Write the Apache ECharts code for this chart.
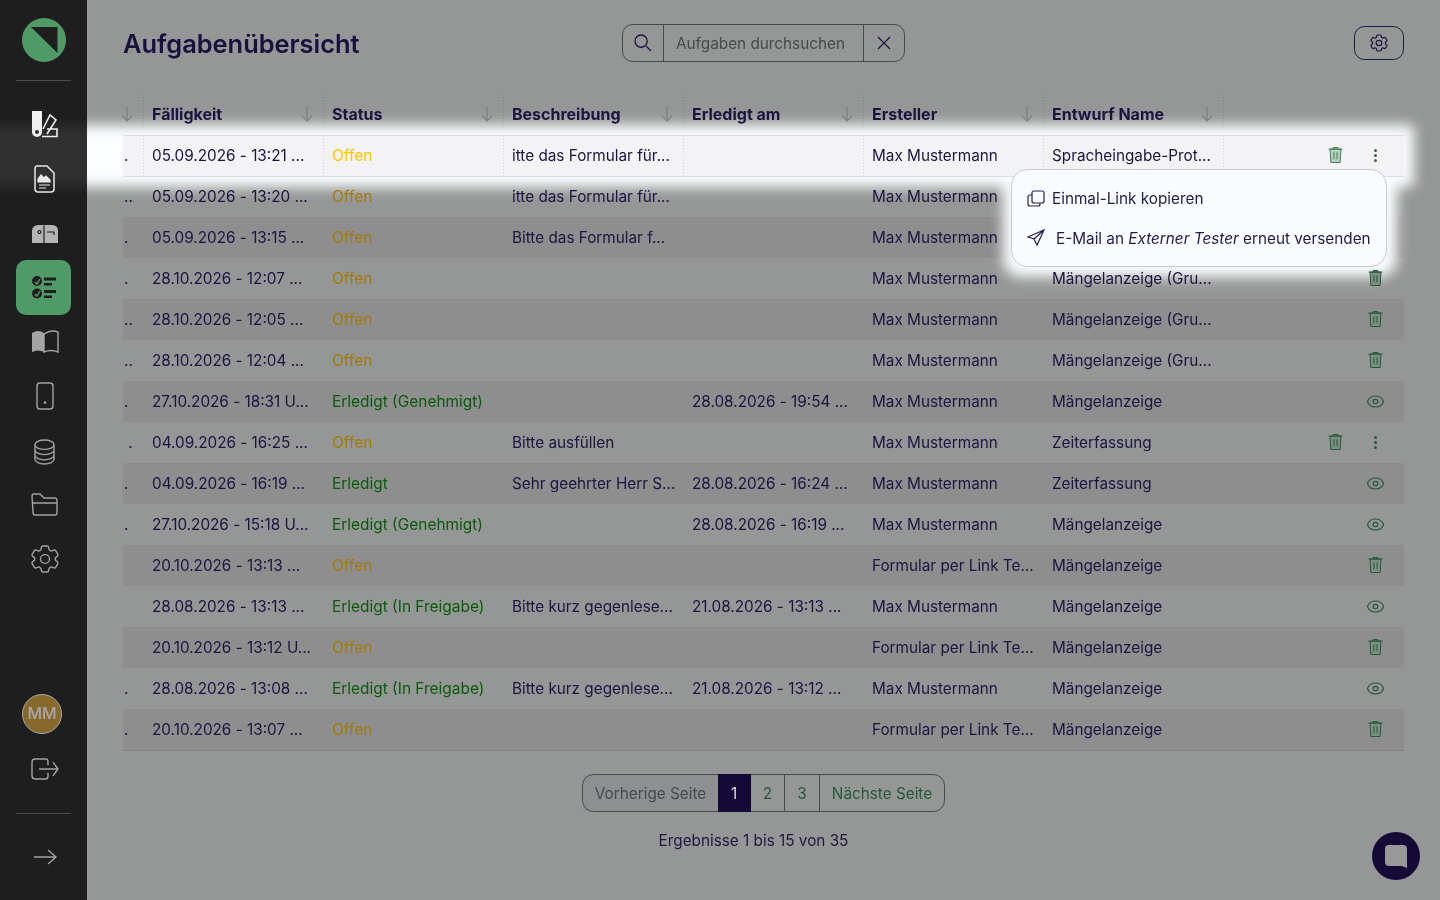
<!DOCTYPE html>
<html><head><meta charset="utf-8">
<style>html,body{margin:0;padding:0;background:#959796}#c{width:1440px;height:900px}</style>
<script src="https://cdn.jsdelivr.net/npm/echarts@6/dist/echarts.min.js"></script></head>
<body><div id="c"></div>
<script>
const headers = ['Fälligkeit', 'Status', 'Beschreibung', 'Erledigt am', 'Ersteller', 'Entwurf Name', ''];
const tails = ['.', '..', '.', '.', '..', '..', '.', ' .', '.', '.', '', '', '', '.', '.'];
const faelligkeit = ['05.09.2026 - 13:21 ...','05.09.2026 - 13:20 ...','05.09.2026 - 13:15 ...','28.10.2026 - 12:07 ...','28.10.2026 - 12:05 ...','28.10.2026 - 12:04 ...','27.10.2026 - 18:31 U...','04.09.2026 - 16:25 ...','04.09.2026 - 16:19 ...','27.10.2026 - 15:18 U...','20.10.2026 - 13:13 ...','28.08.2026 - 13:13 ...','20.10.2026 - 13:12 U...','28.08.2026 - 13:08 ...','20.10.2026 - 13:07 ...'];
const status = ['Offen','Offen','Offen','Offen','Offen','Offen','Erledigt (Genehmigt)','Offen','Erledigt','Erledigt (Genehmigt)','Offen','Erledigt (In Freigabe)','Offen','Erledigt (In Freigabe)','Offen'];
const beschreibung = ['itte das Formular für...','itte das Formular für...','Bitte das Formular f...','','','','','Bitte ausfüllen','Sehr geehrter Herr S...','','','Bitte kurz gegenlese...','','Bitte kurz gegenlese...',''];
const erledigtAm = ['','','','','','','28.08.2026 - 19:54 ...','','28.08.2026 - 16:24 ...','28.08.2026 - 16:19 ...','','21.08.2026 - 13:13 ...','','21.08.2026 - 13:12 ...',''];
const ersteller = ['Max Mustermann','Max Mustermann','Max Mustermann','Max Mustermann','Max Mustermann','Max Mustermann','Max Mustermann','Max Mustermann','Max Mustermann','Max Mustermann','Formular per Link Te...','Max Mustermann','Formular per Link Te...','Max Mustermann','Formular per Link Te...'];
const entwurf = ['Spracheingabe-Prot...','','','Mängelanzeige (Gru...','Mängelanzeige (Gru...','Mängelanzeige (Gru...','Mängelanzeige','Zeiterfassung','Zeiterfassung','Mängelanzeige','Mängelanzeige','Mängelanzeige','Mängelanzeige','Mängelanzeige','Mängelanzeige'];
const actions = ['menu','','','trash','trash','trash','eye','menu','eye','eye','trash','eye','trash','eye','trash'];

const INK='#1c1340', GREEN='#27583a', ICON='#a3a3a3';
const F='Inter, "Noto Sans", sans-serif';
const BODY='400 15.3px', STATUS='400 15.45px';
const colText=[faelligkeit,status,beschreibung,erledigtAm,ersteller,entwurf];
const rowNames=['head'].concat(faelligkeit.map((_,i)=>'r'+i));
const colNames=headers.map((_,i)=>'c'+i);

const PATHS={
 gear:'M9.594 3.94c.09-.542.56-.94 1.11-.94h2.593c.55 0 1.02.398 1.11.94l.213 1.281c.063.374.313.686.645.87.074.04.147.083.22.127.325.196.72.257 1.075.124l1.217-.456a1.125 1.125 0 0 1 1.37.49l1.296 2.247a1.125 1.125 0 0 1-.26 1.431l-1.003.827c-.293.241-.438.613-.43.992a7.723 7.723 0 0 1 0 .255c-.008.378.137.75.43.991l1.004.827c.424.35.534.955.26 1.43l-1.298 2.247a1.125 1.125 0 0 1-1.369.491l-1.217-.456c-.355-.133-.75-.072-1.076.124a6.47 6.47 0 0 1-.22.128c-.331.183-.581.495-.644.869l-.213 1.281c-.09.543-.56.94-1.11.94h-2.594c-.55 0-1.019-.398-1.11-.94l-.213-1.281c-.062-.374-.312-.686-.644-.87a6.52 6.52 0 0 1-.22-.127c-.325-.196-.72-.257-1.076-.124l-1.217.456a1.125 1.125 0 0 1-1.369-.49l-1.297-2.247a1.125 1.125 0 0 1 .26-1.431l1.004-.827c.292-.24.437-.613.43-.991a6.932 6.932 0 0 1 0-.255c.007-.38-.138-.751-.43-.992l-1.004-.827a1.125 1.125 0 0 1-.26-1.43l1.297-2.247a1.125 1.125 0 0 1 1.37-.491l1.216.456c.356.133.751.072 1.076-.124.072-.044.146-.086.22-.128.332-.183.582-.495.644-.869l.214-1.28Z M15 12a3 3 0 1 1-6 0 3 3 0 0 1 6 0Z',
 eye:'M2.036 12.322a1.012 1.012 0 0 1 0-.639C3.423 7.51 7.36 4.5 12 4.5c4.638 0 8.573 3.007 9.963 7.178.07.207.07.431 0 .639C20.577 16.49 16.64 19.5 12 19.5c-4.638 0-8.573-3.007-9.963-7.178Z M15 12a3 3 0 1 1-6 0 3 3 0 0 1 6 0Z',
 trashBody:'M3 5H21 M9 5V3H15V5 M5 5L6 22H18L19 5Z M10 9V18 M14 9V18',
 search:'M16 16L21 21 M17 10.5A6.5 6.5 0 1 1 4 10.5A6.5 6.5 0 1 1 17 10.5Z',
 x:'M5 5L19 19 M19 5L5 19',
 swatch:'M32 111H42V132A5 5 0 0 1 32 132Z M35 132A2 2 0 1 0 39 132A2 2 0 1 0 35 132Z',
 pencil:'M43 129L50 115L56 120L47 134 M47 129H57V136.5H42',
 doc:'M37 166H47L54 173V189Q54 192 51 192H38Q35 192 35 189V169Q35 166 37 166Z',
 docIn:'M38 179L41 175L44 178L46 176L50 180V182H38Z M39 185H50 M39 188H46',
 mailbox:'M39 225H52Q58 225 58 231V243H32V231Q32 225 39 225Z',
 mailIn:'M44 225.5V243 M47 232H54V235 M38 232A1.5 1.5 0 1 1 41 232A1.5 1.5 0 1 1 38 232Z',
 book:'M32 334Q38 330 44 334V352Q38 349 32 352Z',
 bookR:'M44 334Q51 329 58 332V352Q51 349 44 352Z',
 phone:'M40 383H50Q53 383 53 386V406Q53 409 50 409H40Q37 409 37 406V386Q37 383 40 383Z M45 402A0.6 0.6 0 1 1 45 403.2A0.6 0.6 0 1 1 45 402Z',
 db:'M35 445A9.5 4.5 0 0 1 54 445A9.5 4.5 0 0 1 35 445Z M35 445V459A9.5 4.5 0 0 0 54 459V445 M35 450A9.5 4.5 0 0 0 54 450 M35 455A9.5 4.5 0 0 0 54 455',
 folder:'M34 494H40L44 498H55Q57 498 57 501V512Q57 515 55 515H35Q33 515 33 512L32 496Q32 494 34 494Z M33 503H57',
 logout:'M46 760H35Q32 760 32 763V776Q32 779 35 779H46Q48 779 48 776V773 M48 766V763Q48 760 46 760 M39 769.5H58 M53 763L58 769.5L53 776',
 arrow:'M34 857H56 M48 850L56 857L48 864',
 copy:'M1034 191H1042Q1044 191 1044 193V201Q1044 203 1042 203H1034Q1032 203 1032 201V193Q1032 191 1034 191Z M1032 195H1030Q1028 195 1028 197V204Q1028 206 1030 206H1038Q1040 206 1040 204V203',
 send:'M1028 237L1044 230L1037 245L1034 239Z M1034 239L1044 230',
 bubble:'M1389 845H1403Q1407 845 1407 849V868L1402 866H1389Q1385 866 1385 862V849Q1385 845 1389 845Z',
 check:'M35 282L37 284L40 279 M35 294L37 296L40 291',
 checkC:'M42 281A5 5 0 1 1 32 281A5 5 0 1 1 42 281Z M42 293.5A5 5 0 1 1 32 293.5A5 5 0 1 1 42 293.5Z M44 277.5H56V280.5H44Z M44 283H52V285.5H44Z M44 290H56V293H44Z M44 295.5H52V298H44Z',
 logo:'M31 27H57.5V53Z'
};
const icons=[
 {p:'logo',b:[31,27,26.5,26],fill:'#1e1e1e'},
 {p:'swatch',b:[32,111,10,26],fill:'#efefef'},
 {p:'pencil',b:[42,115,15,21.5],stroke:'#efefef',lw:1.6},
 {p:'doc',b:[35,166,19,26],stroke:'#e8e8e8',lw:1.5},
 {p:'docIn',b:[38,175,12,13],stroke:'#e8e8e8',lw:1.2,fill:'#e8e8e8'},
 {p:'mailbox',b:[32,225,26,18],fill:'#b4b4b4'},
 {p:'mailIn',b:[38,225.5,16,17.5],stroke:'#1e1e1e',lw:1.2},
 {p:'checkC',b:[32,276,24,22.5],fill:'#1e1e1e'},
 {p:'check',b:[35,279,5,17],stroke:'#4f9a66',lw:1.4},
 {p:'book',b:[32,331,12,21],fill:ICON},
 {p:'bookR',b:[44,331,14,21],stroke:ICON,lw:1.4},
 {p:'phone',b:[37,383,16,26],stroke:ICON,lw:1.4},
 {p:'db',b:[35,440,19,24],stroke:ICON,lw:1.4},
 {p:'folder',b:[32,494,25,21],stroke:ICON,lw:1.4},
 {p:'gear',b:[32,546,26,26],stroke:ICON,lw:1.4},
 {p:'logout',b:[32,759,26,20],stroke:ICON,lw:1.4},
 {p:'arrow',b:[34,850,22,14],stroke:ICON,lw:1.4},
 {p:'search',b:[635,35,16,16],stroke:'#1c1340',lw:1.3},
 {p:'x',b:[878,37,12,12],stroke:'#1c1340',lw:1.3},
 {p:'gear',b:[1371,35,16,16],stroke:'#1c1340',lw:1.2},
 {p:'copy',b:[1028,191,16,15],stroke:'#2a2050',lw:1.2},
 {p:'send',b:[1028,230,16,15],stroke:'#2a2050',lw:1.2},
 {p:'bubble',b:[1385,845,22,23],fill:'#979897'}
];

/* cells: drawn through the grid's category scales */
const cells=[];
headers.forEach((h,c)=>{ if(h) cells.push({c,r:0,text:h,head:1}); });
tails.forEach((t,r)=>{ if(t.trim()) cells.push({c:0,r:r+1,text:t,tail:1}); });
colText.forEach((arr,c)=>arr.forEach((t,r)=>{ if(t) cells.push({c,r:r+1,text:t,col:c}); }));
const actCells=[];
actions.forEach((a,r)=>{ if(a) actCells.push({r:r+1,kind:a}); });
const arrowCols=[-1,0,1,2,3,4,5];

function txtColor(cell){
  if(cell.col===1){
    if(cell.text==='Offen') return cell.r===1?'#ffc400':'#a07b08';
    return '#0b5a0b';
  }
  return INK;
}
const rowSeries={type:'custom',z:1,silent:true,animation:false,clip:false,
  data:rowNames.map((_,r)=>[0,r]),
  renderItem(p,api){
    const r=p.dataIndex; if(r===0) return {type:'group',children:[]};
    const pt=api.coord([0,r]), h=api.size([0,1])[1];
    const x=pt[0]-110, y=pt[1]-h/2, dark=r%2===1;
    return {type:'group',children:[
      {type:'rect',shape:{x:x,y:y,width:1281,height:h},style:{fill:dark?'#8e8e8f':'#959796'}},
      {type:'rect',shape:{x:x,y:Math.round(y+h),width:1281,height:1},style:{fill:'#808188'}}
    ]};
  }};
const cellSeries={type:'custom',z:6,silent:true,animation:false,clip:false,
  data:cells.map(d=>[d.c,d.r]),
  renderItem(p,api){
    const d=cells[p.dataIndex], pt=api.coord([d.c,d.r]);
    const x=d.tail?pt[0]-90-19:pt[0]-90+9;
    const font=d.head?'700 16px':(d.col===1?STATUS:BODY);
    return {type:'text',x:x,y:pt[1]+0.5,style:{text:d.text,fill:d.head?INK:txtColor(d),
      font:font+' '+F,textVerticalAlign:'middle',textAlign:'left'}};
  }};
const sortSeries={type:'custom',z:6,silent:true,animation:false,clip:false,
  data:arrowCols.map(c=>[Math.max(c,0),0]),
  renderItem(p,api){
    const c=arrowCols[p.dataIndex], pt=api.coord([Math.max(c,0),0]);
    const x=pt[0]+74-(c<0?180:0), y=pt[1]-0.5;
    return {type:'path',shape:{pathData:'M0 0V13 M-5 8L0 13L5 8',x:x-5,y:y-7,width:10,height:14,layout:'cover'},
      style:{stroke:'#7d7f80',fill:null,lineWidth:1.3}};
  }};
const actSeries={type:'custom',z:6,silent:true,animation:false,clip:false,
  data:actCells.map(d=>[6,d.r]),
  renderItem(p,api){
    const d=actCells[p.dataIndex], pt=api.coord([6,d.r]);
    const cx=pt[0]+62.5, cy=pt[1], ch=[];
    const bright=d.r===1;
    const trash=(tx)=>({type:'path',shape:{pathData:PATHS.trashBody,x:tx-7,y:cy-8,width:14,height:15,layout:'cover'},
      style:{stroke:bright?'#3f8058':GREEN,fill:bright?'#b5cfc0':'#7b9183',lineWidth:1}});
    if(d.kind==='trash') ch.push(trash(cx));
    if(d.kind==='eye') ch.push({type:'path',shape:{pathData:PATHS.eye,x:cx-8,y:cy-5.5,width:16,height:11,layout:'cover'},
      style:{stroke:GREEN,fill:null,lineWidth:1.2}});
    if(d.kind==='menu'){
      ch.push(trash(cx-40));
      [-5,0,5].forEach(o=>ch.push({type:'circle',shape:{cx:cx,cy:cy+o,r:1.5},style:{fill:bright?'#43634f':GREEN}}));
    }
    return {type:'group',children:ch};
  }};
const iconSeries={type:'custom',coordinateSystem:'none',z:9,silent:true,animation:false,
  data:icons.map((_,i)=>[i]),
  renderItem(p){
    const k=icons[p.dataIndex];
    return {type:'path',shape:{pathData:PATHS[k.p],x:k.b[0],y:k.b[1],width:k.b[2],height:k.b[3],layout:'cover'},
      style:{fill:k.fill||null,stroke:k.stroke||null,lineWidth:k.lw||1}};
  }};

function T(x,y,text,font,fill,z,align){return {type:'text',z:z||9,silent:true,x,y,
  style:{text,font:font+' '+F,fill,textVerticalAlign:'middle',textAlign:align||'left'}};}
function R(x,y,w,h,r,fill,stroke,z,extra){return {type:'rect',z:z||8,silent:true,shape:{x,y,width:w,height:h,r:r||0},
  style:Object.assign({fill:fill||'transparent',stroke:stroke||null,lineWidth:1},extra||{})};}
function L(x1,y1,x2,y2,stroke,z,dash){return {type:'line',z:z||8,silent:true,shape:{x1,y1,x2,y2},
  style:{stroke,lineWidth:1,lineDash:dash||null}};}
/* soft-edged white patch: only the blurred shadow of an off-canvas rect is visible */
const OFF=3000;
function glow(x,y,w,h,r,blur){return R(x-OFF,y,w,h,r,'#ffffff',null,2,{shadowBlur:blur,shadowColor:'#fbfdff',shadowOffsetX:OFF});}

const vlines=[143,323,503,683,863,1043,1223];
const BOX='#47494a';
const graphics=[
  /* spotlight */
  glow(-40,125,1454,62,4,13),
  glow(1003,160,394,117,18,13),
  /* highlighted row */
  R(123,135.5,1281,41,0,'#f3f3f5',null,3),
  L(123,135.5,1404,135.5,'#dcdbe7',4),
  L(123,176.5,1404,176.5,'#dcdbe7',4),
  ...vlines.map(x=>L(x+.5,136,x+.5,176,'#d6d6de',4,[1,2])),
  /* popup */
  R(1011.5,169.5,375,97,16,'#f9fcff','#c9c9d1',7),
  T(1052,199,'Einmal-Link kopieren',BODY,'#241a4a',9),
  {type:'text',z:9,silent:true,x:1056,y:239,style:{
    text:'{a|E-Mail an }{b|Externer Tester}{a| erneut versenden}',fill:'#241a4a',textVerticalAlign:'middle',
    rich:{a:{font:BODY+' '+F,fill:'#241a4a'},b:{font:'italic '+BODY+' '+F,fill:'#241a4a'}}}},
  /* sidebar */
  R(0,0,87,900,0,{type:'linear',x:0,y:0,x2:0,y2:1,colorStops:[
     {offset:0,color:'#1e1e1e'},{offset:118/900,color:'#1e1e1e'},{offset:134/900,color:'#303030'},
     {offset:177/900,color:'#303030'},{offset:195/900,color:'#1e1e1e'},{offset:1,color:'#1e1e1e'}]},null,8),
  {type:'circle',z:8,silent:true,shape:{cx:44,cy:40,r:22},style:{fill:'#4f9a66'}},
  L(16,80.5,71,80.5,'#4a4a4a',8),
  L(16,813.5,71,813.5,'#4a4a4a',8),
  R(16,260,55,55,10,'#4f9a66',null,8),
  {type:'circle',z:8,silent:true,shape:{cx:42,cy:714,r:19.5},style:{fill:'#86692b',stroke:'#a8a8a8',lineWidth:1}},
  T(42,714.5,'MM','500 16px','#a9a9a9',9,'center'),
  /* header */
  T(123,45,'Aufgabenübersicht','600 25.4px','#1a1040',9),
  R(622.5,24.5,282,37,10,null,BOX,8),
  L(663.5,25,663.5,61,BOX,8), L(863.5,25,863.5,61,BOX,8),
  T(676,44,'Aufgaben durchsuchen',BODY,'#47494a',9),
  R(1354.5,26.5,49,33,10,null,'#1f1a40',8),
  /* pagination */
  R(583,775,135,36,0,'#8e8f92',null,7),
  R(582.5,774.5,362,37,11,null,BOX,8),
  R(718,774,33,38,0,'#150a36',null,8),
  L(784.5,775,784.5,811,BOX,8), L(819.5,775,819.5,811,BOX,8),
  T(650.5,794,'Vorherige Seite',BODY,'#47494a',9,'center'),
  T(734,794,'1',BODY,'#dddddd',9,'center'),
  T(767.5,794,'2',BODY,GREEN,9,'center'),
  T(802,794,'3',BODY,GREEN,9,'center'),
  T(882,794,'Nächste Seite',BODY,GREEN,9,'center'),
  T(753.5,841,'Ergebnisse 1 bis 15 von 35',BODY,'#1f1640',9,'center'),
  /* chat */
  {type:'circle',z:8,silent:true,shape:{cx:1396,cy:856,r:24},style:{fill:'#150a36'}}
];

const chart=echarts.init(document.getElementById('c'),null,{renderer:'canvas',width:1440,height:900});
chart.setOption({
  animation:false,backgroundColor:'#959796',tooltip:{show:false},legend:{show:false},
  grid:{left:143,top:94,width:1260,height:656,containLabel:false},
  xAxis:{type:'category',data:colNames,position:'top',axisLine:{show:false},axisTick:{show:false},axisLabel:{show:false},
    splitLine:{show:true,interval:0,showMinLine:true,showMaxLine:false,lineStyle:{color:'#7c7d80',type:[1,2],width:1}}},
  yAxis:{type:'category',data:rowNames,inverse:true,axisLine:{show:false},axisTick:{show:false},axisLabel:{show:false},
    splitLine:{show:false}},
  graphic:{elements:graphics},
  series:[rowSeries,cellSeries,sortSeries,actSeries,iconSeries]
});
</script></body></html>
